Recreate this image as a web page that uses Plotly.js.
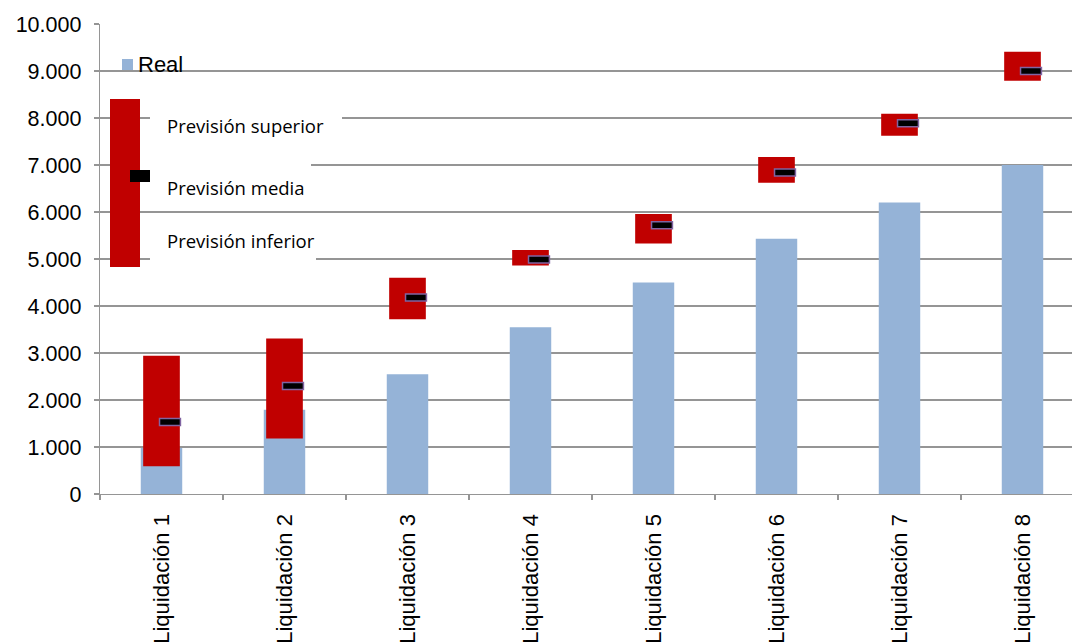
<!DOCTYPE html>
<html>
<head>
<meta charset="utf-8">
<script src="https://cdn.plot.ly/plotly-3.0.1.min.js"></script>
<style>
html,body{margin:0;padding:0;overflow:hidden;background:#fff;width:1072px;height:644px;}
#chart{width:1090px;height:644px;}
</style>
</head>
<body>
<div id="chart"></div>
<script>
// ---- data ----
const categories = ["Liquidación 1","Liquidación 2","Liquidación 3","Liquidación 4","Liquidación 5","Liquidación 6","Liquidación 7","Liquidación 8"];
const real = [980, 1790, 2550, 3550, 4500, 5430, 6200, 7000];
const previsionSuperior = [2940, 3310, 4600, 5190, 5960, 7170, 8090, 9410];
const previsionInferior = [590, 1180, 3720, 4860, 5330, 6620, 7620, 8790];
const previsionMedia = [1530, 2300, 4180, 4990, 5720, 6840, 7890, 9000];
const yTickVals = [0,1000,2000,3000,4000,5000,6000,7000,8000,9000,10000];
const yTickText = ["0","1.000","2.000","3.000","4.000","5.000","6.000","7.000","8.000","9.000","10.000"];
const legendLabels = ["Real","Previsión superior","Previsión media","Previsión inferior"];

// ---- styles ----
const BLUE = "#95b3d7", RED = "#c00000", MARK = "#000000", MARKLINE = "#8064a2", GRID = "#959595";
const MEAN_THICK = 150; // marker thickness in data units

// plot geometry in pixels
const L = 100, R = 1084, T = 24, B = 494, W = 1090, H = 644;
const px = p => (p - L) / (R - L);
const py = p => (B - p) / (B - T);

const traces = [
  {type:"bar", x:categories, y:real, width:0.337, marker:{color:BLUE}, name:"Real", hoverinfo:"y"},
  {type:"bar", x:categories, base:previsionInferior,
   y:previsionSuperior.map((s,i)=>s-previsionInferior[i]),
   width:0.298, marker:{color:RED}, name:"Previsión", hoverinfo:"skip"},
  {type:"bar", x:categories, base:previsionMedia.map(v=>v-MEAN_THICK/2),
   y:previsionMedia.map(()=>MEAN_THICK), width:0.17, offset:-0.016,
   marker:{color:MARK, line:{color:MARKLINE, width:1.5}}, name:"Media", hoverinfo:"skip"}
];

function rect(x0,y0,x1,y1,fill,layer){
  return {type:"rect", xref:"paper", yref:"paper", x0:px(x0), x1:px(x1), y0:py(y1), y1:py(y0),
          fillcolor:fill, line:{width:0}, layer:layer||"above"};
}
const shapes = [
  rect(150,108,342,137,"#fff"),
  rect(140,152,311,200,"#fff"),
  rect(150,226,316,264,"#fff"),
  rect(122,59,133,70,BLUE),
  rect(110,99,140,267,RED),
  rect(130,170,150,182,MARK)
];
function ann(text,x,y,font){
  return {xref:"paper", yref:"paper", x:px(x), y:py(y), xanchor:"left", yanchor:"middle",
          text:text, showarrow:false, font:font};
}
const legFont = {family:"Open Sans, sans-serif", size:18.5, color:"#000"};
const annotations = [
  ann(legendLabels[0],136,64,{family:"Liberation Sans, Arial, sans-serif", size:22, color:"#000"}),
  ann(legendLabels[1],165,126,legFont),
  ann(legendLabels[2],165,187,legFont),
  ann(legendLabels[3],165,241,legFont)
];

const layout = {
  width:W, height:H,
  margin:{l:L, r:W-R, t:T, b:H-B, pad:0},
  paper_bgcolor:"#fff", plot_bgcolor:"#fff",
  barmode:"overlay", showlegend:false,
  font:{family:"Liberation Sans, Arial, sans-serif", color:"#000"},
  xaxis:{type:"category", range:[-0.5,7.5], tickangle:-90, tickson:"boundaries",
         ticks:"outside", ticklen:5, tickcolor:GRID, tickwidth:1.3,
         showline:true, linecolor:GRID, linewidth:1.3, showgrid:false,
         tickfont:{size:22, color:"#000"}, ticklabelstandoff:10, fixedrange:true},
  yaxis:{range:[0,10000], tickvals:yTickVals, ticktext:yTickText,
         ticks:"outside", ticklen:5, tickcolor:GRID, tickwidth:1.3,
         showline:true, linecolor:GRID, linewidth:1.3,
         showgrid:true, gridcolor:GRID, gridwidth:1.3, zeroline:false,
         tickfont:{size:21.5, color:"#000"}, ticklabelstandoff:8, fixedrange:true},
  shapes:shapes, annotations:annotations
};

Plotly.newPlot("chart", traces, layout, {displayModeBar:false, staticPlot:true});
</script>
</body>
</html>
